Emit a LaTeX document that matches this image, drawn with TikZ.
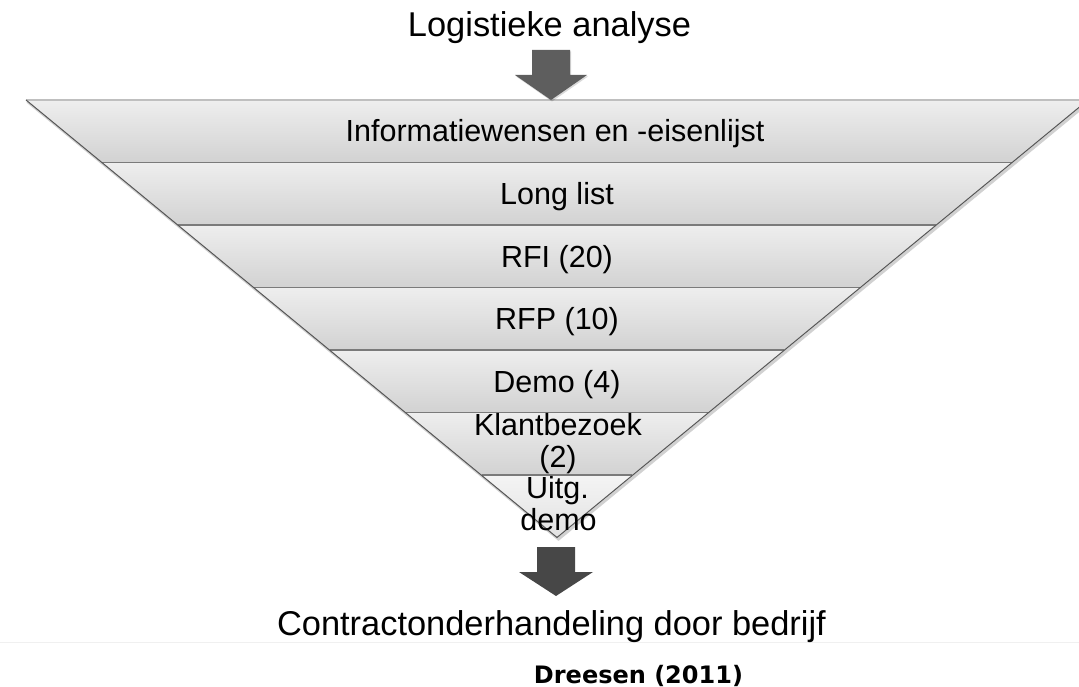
\documentclass[tikz,border=0pt]{standalone}
\usepackage{fontspec}
\setmainfont{Liberation Sans}
\newfontfamily\citefont{DejaVu Sans}
\usetikzlibrary{calc}
\definecolor{bandtop}{HTML}{EEEEEE}
\definecolor{bandbot}{HTML}{D2D2D2}
\definecolor{lasttop}{HTML}{F4F4F4}
\definecolor{lastbot}{HTML}{E2E2E2}
\definecolor{sepcol}{HTML}{7A7A7A}
\definecolor{edgecol}{HTML}{555555}
\definecolor{arrowtop}{HTML}{5E5E5E}
\definecolor{arrowbot}{HTML}{474747}
\tikzset{
  bandtext/.style={anchor=base, font=\fontsize{30.5}{32}\selectfont, inner sep=0pt},
  titletext/.style={anchor=base, font=\fontsize{34.4}{36}\selectfont, inner sep=0pt},
  citetext/.style={anchor=base, font=\citefont\bfseries\fontsize{24}{26}\selectfont, inner sep=0pt},
  sepline/.style={draw=sepcol, line width=1.1pt},
  funneledge/.style={draw=edgecol, line width=1pt},
  edgeshadow/.style={draw=black, opacity=0.18, line width=3pt},
}
\newcommand{\xl}[1]{26+1.215*(#1-100)}
\newcommand{\xr}[1]{1088-1.215*(#1-100)}
\begin{document}
\begin{tikzpicture}[x=1pt,y=-1pt]
\useasboundingbox (0,0) rectangle (1079,687);
\clip (0,0) rectangle (1079,687);
% faint slide line
\draw[color=black!6, line width=1pt] (0,642) -- (1079,642);
% funnel shadow
\draw[edgeshadow] ({\xl{100}+1.5},101.5) -- (558.5,539) -- ({\xr{100}+1.5},101.5);
% bands
\foreach \t/\b in {100/162.5,162.5/225,225/287.5,287.5/350,350/412.5,412.5/475}{
  \shade[top color=bandtop, bottom color=bandbot]
    ({\xl{\t}},\t) -- ({\xr{\t}},\t) -- ({\xr{\b}},\b) -- ({\xl{\b}},\b) -- cycle;
}
\shade[top color=lasttop, bottom color=lastbot]
  ({\xl{475}},475) -- ({\xr{475}},475) -- (557,537.5) -- cycle;
% separators
\foreach \y in {162.5,225,287.5,350,412.5,475}{
  \draw[sepline] ({\xl{\y}},\y) -- ({\xr{\y}},\y);
}
\draw[draw=black!25, line width=2pt] ({\xl{100}},100) -- ({\xr{100}},100);
% funnel edges
\draw[funneledge] ({\xl{100}},100) -- (557,537.5) -- ({\xr{100}},100);
% top block arrow
\coordinate (tarr) at (551,50);
\fill[black, opacity=0.15] ($(tarr)+(-18,1.5)$) -- ++(38,0) -- ++(0,25) -- ++(17,0) -- ++(-36,25) -- ++(-36,-25) -- ++(17,0) -- cycle;
\fill[arrowtop] ($(tarr)+(-19,0)$) -- ++(38,0) -- ++(0,25) -- ++(17,0) -- ++(-36,25) -- ++(-36,-25) -- ++(17,0) -- cycle;
% bottom block arrow
\coordinate (barr) at (556,547);
\fill[arrowbot] ($(barr)+(-19,0)$) -- ++(38,0) -- ++(0,25) -- ++(18,0) -- ++(-37,24) -- ++(-37,-24) -- ++(18,0) -- cycle;
% texts
\node[titletext] (title) at (549.5,37) {Logistieke analyse};
\node[bandtext] (b1) at (555,142) {Informatiewensen en -eisenlijst};
\node[bandtext] (b2) at (557,204.5) {Long list};
\node[bandtext] (b3) at (557,267) {RFI (20)};
\node[bandtext] (b4) at (557,329.5) {RFP (10)};
\node[bandtext] (b5) at (557,392) {Demo (4)};
\node[bandtext] (b6a) at (558,435) {Klantbezoek};
\node[bandtext] (b6b) at (558,467) {(2)};
\node[bandtext] (b7a) at (557.5,498) {Uitg.};
\node[bandtext] (b7b) at (558.5,530) {demo};
\node[titletext] (end) at (551.5,635) {Contractonderhandeling door bedrijf};
\node[citetext] (cite) at (638.5,683) {Dreesen (2011)};
\end{tikzpicture}
\end{document}
